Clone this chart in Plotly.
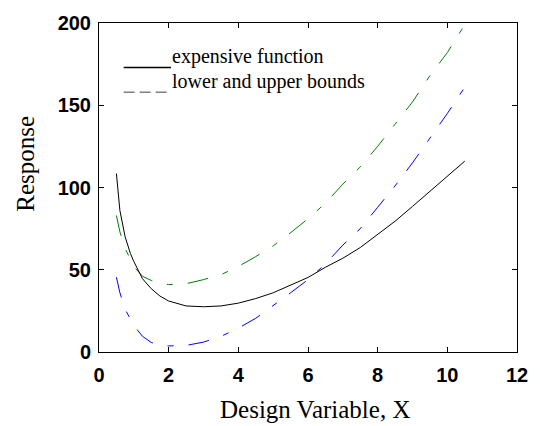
import plotly.graph_objects as go

# ---- data ----
x_vals = [0.5, 0.6, 0.75, 0.9, 1.0, 1.25, 1.5, 1.75, 2.0, 2.5, 3.0, 3.5, 4.0, 4.5,
          5.0, 5.5, 6.0, 6.5, 7.0, 7.5, 8.0, 8.5, 9.0, 9.5, 10.0, 10.5]
expensive = [108.5, 86, 70, 60, 55, 44.5, 38.5, 34, 31, 28, 27.5, 28, 29.7, 32.5,
             36, 40.5, 45.3, 51.5, 57, 63.5, 71.5, 79.5, 88.5, 97.5, 106.5, 116]
upper = [83, 73, 63, 56.5, 52, 46, 43.5, 42, 41, 41.5, 44, 47, 52, 58,
         64.5, 72.5, 81, 90.5, 102, 112.5, 125, 138.5, 152, 168, 182, 199]
lower = [45.5, 36, 26, 19.5, 16, 9.5, 5.8, 4.3, 3.7, 4, 6, 9.5, 14.5, 20.5,
         28, 36, 44, 53.5, 65, 75, 88, 101, 115, 130, 145, 161]
x_ticks = [0, 2, 4, 6, 8, 10, 12]
y_ticks = [0, 50, 100, 150, 200]
legend_labels = ["expensive function", "lower and upper bounds"]
x_title = "Design Variable, X"
y_title = "Response"

# ---- layout geometry (pixels) ----
W, H = 540, 426
ML, MR, MT, MB = 99, 17, 20, 74
PW, PH = W - ML - MR, H - MT - MB


def px(xpix):
    return (xpix - ML) / PW


def py(ypix):
    return (H - MB - ypix) / PH


DASHDOT = "21px,15px,6px,15px"

fig = go.Figure()
fig.add_trace(go.Scatter(x=x_vals, y=upper, mode="lines",
                         line=dict(color="#008000", width=1, dash=DASHDOT),
                         showlegend=False))
fig.add_trace(go.Scatter(x=x_vals, y=lower, mode="lines",
                         line=dict(color="#0000FF", width=1, dash=DASHDOT),
                         showlegend=False))
fig.add_trace(go.Scatter(x=x_vals, y=expensive, mode="lines",
                         line=dict(color="black", width=1),
                         showlegend=False))

tickfont = dict(family="Liberation Sans, Arial, sans-serif", size=20, color="black",
                weight="bold")
axis_common = dict(showgrid=False, zeroline=False, showline=True, linecolor="black",
                   linewidth=1, mirror="ticks", ticks="inside", ticklen=5,
                   tickcolor="black", tickfont=tickfont)

fig.update_xaxes(range=[0, 12], tickvals=x_ticks, ticklabelstandoff=5, **axis_common)
fig.update_yaxes(range=[0, 200], tickvals=y_ticks, ticklabelstandoff=3, **axis_common)

serif = "Liberation Serif, Times New Roman, serif"

# legend drawn as lines + text
fig.add_shape(type="line", xref="paper", yref="paper",
              x0=px(124), x1=px(172), y0=py(65), y1=py(65),
              line=dict(color="black", width=1.5))
fig.add_shape(type="line", xref="paper", yref="paper",
              x0=px(124), x1=px(168), y0=py(90), y1=py(90),
              line=dict(color="#808080", width=1.5, dash="11px,5px"))
fig.add_annotation(xref="paper", yref="paper", x=px(171), y=py(54),
                   text=legend_labels[0], showarrow=False, xanchor="left",
                   yanchor="middle", font=dict(family=serif, size=20, color="black"))
fig.add_annotation(xref="paper", yref="paper", x=px(171), y=py(79),
                   text=legend_labels[1], showarrow=False, xanchor="left",
                   yanchor="middle", font=dict(family=serif, size=20, color="black"))

# axis titles
fig.add_annotation(xref="paper", yref="paper", x=px(318), y=py(410),
                   text=x_title, showarrow=False, xanchor="center", yanchor="middle",
                   font=dict(family=serif, size=25, color="black"))
fig.add_annotation(xref="paper", yref="paper", x=px(25), y=py(162),
                   text=y_title, showarrow=False, xanchor="center", yanchor="middle",
                   textangle=-90, font=dict(family=serif, size=25, color="black"))

fig.update_layout(width=W, height=H, margin=dict(l=ML, r=MR, t=MT, b=MB),
                  paper_bgcolor="white", plot_bgcolor="white", showlegend=False)

fig.write_html("out.html")
